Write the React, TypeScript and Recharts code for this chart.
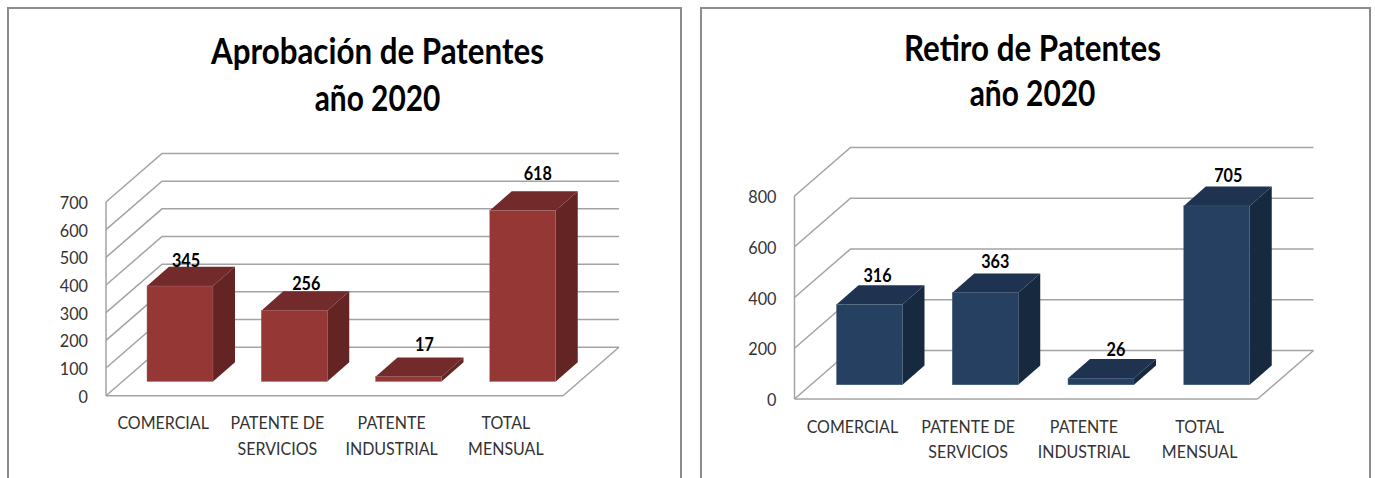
import React from 'react';
import { BarChart, Bar, XAxis, YAxis, CartesianGrid } from 'recharts';

const categories = ['COMERCIAL', 'PATENTE DE SERVICIOS', 'PATENTE INDUSTRIAL', 'TOTAL MENSUAL'];
const aprobacionValues = [345, 256, 17, 618];
const retiroValues = [316, 363, 26, 705];
const aprobacionTicks = [0, 100, 200, 300, 400, 500, 600, 700];
const retiroTicks = [0, 200, 400, 600, 800];

const FONT = 'Lato, sans-serif';
const DEPTH_X = 56;
const DEPTH_Y = -48.5;
const GRID = '#a3a3a3';

// horizontally squeezed text, the original is a narrower font stretched up
const Squeezed = ({ x, y, sx, size, weight, fill, children }: any) => (
  <text
    transform={`translate(${x} ${y}) scale(${sx} 1)`}
    textAnchor="middle"
    fontFamily={FONT}
    fontSize={size}
    fontWeight={weight}
    fill={fill}
  >
    {children}
  </text>
);

const YTick = ({ x, y, payload }: any) => (
  <text
    transform={`translate(${x - 10} ${y + 7}) scale(0.9 1)`}
    textAnchor="end"
    fontFamily={FONT}
    fontSize={18}
    fill="#333"
  >
    {payload.value}
  </text>
);

const XTick = ({ x, y, payload }: any) => {
  const text: string = payload.value;
  const cut = text.lastIndexOf(' ');
  const lines = cut < 0 ? [text] : [text.slice(0, cut), text.slice(cut + 1)];
  return (
    <g>
      {lines.map((line, i) => (
        <Squeezed key={line} x={x} y={y + 25.5 + i * 25.5} sx={0.89} size={18} fill="#333">
          {line}
        </Squeezed>
      ))}
    </g>
  );
};

interface PanelProps {
  left: number;
  width: number;
  title: string[];
  titleX: number;
  titleY: number[];
  titleScale: number[];
  values: number[];
  ticks: number[];
  plot: { x1: number; x2: number; top: number; bottom: number };
  colors: { front: string; top: string; side: string; edge: string };
  labelShift: number[][];
}

const Panel: React.FC<PanelProps> = ({ left, width, title, titleX, titleY, titleScale, values, ticks, plot, colors, labelShift }) => {
  const data = categories.map((name, i) => ({ name, value: values[i] }));
  const barShiftX = 17;
  const barShiftY = -14.2;
  const boxX = 22;
  const boxY = -19.3;

  const gridLine = (p: any) => {
    const isFloor = p.y1 > plot.bottom - 1;
    const d = `M${p.x1} ${p.y1}L${p.x1 + DEPTH_X} ${p.y1 + DEPTH_Y}L${p.x2 + DEPTH_X} ${p.y1 + DEPTH_Y}`;
    return (
      <g key={p.key ?? p.y1}>
        <path d={d} fill="none" stroke={GRID} strokeWidth={1.5} />
        {isFloor && <path d={`M${p.x2} ${p.y1}L${p.x2 + DEPTH_X} ${p.y1 + DEPTH_Y}`} fill="none" stroke={GRID} strokeWidth={1.5} />}
      </g>
    );
  };

  const box = (p: any) => {
    const x = p.x + barShiftX;
    const y = p.y + barShiftY;
    const w = p.width;
    const h = p.height;
    return (
      <g>
        <path d={`M${x} ${y}L${x + boxX} ${y + boxY}L${x + w + boxX} ${y + boxY}L${x + w} ${y}Z`} fill={colors.top} />
        <path d={`M${x + w} ${y}L${x + w + boxX} ${y + boxY}L${x + w + boxX} ${y + h + boxY}L${x + w} ${y + h}Z`} fill={colors.side} />
        <rect x={x} y={y} width={w} height={h} fill={colors.front} stroke={colors.edge} strokeWidth={0.4} />
      </g>
    );
  };

  const valueLabel = (p: any) => {
    const shift = labelShift[p.index];
    return (
      <Squeezed
        x={p.x + p.width / 2 + barShiftX + shift[0]}
        y={p.y + barShiftY + boxY + shift[1]}
        sx={0.9}
        size={18}
        weight={700}
        fill="#000"
      >
        {p.value}
      </Squeezed>
    );
  };

  return (
    <div style={{ position: 'absolute', left, top: 0, width, height: 478 }}>
      <div style={{ position: 'absolute', left: 0, top: 7, width: width - 4, height: 500, border: '2px solid #8c8c8c' }} />
      <div style={{ position: 'absolute', left: 0, top: 0 }}>
        <BarChart
          width={width}
          height={478}
          data={data}
          margin={{ left: plot.x1 - left - 50, right: width - (plot.x2 - left), top: plot.top, bottom: 478 - plot.bottom - 60 }}
        >
          <CartesianGrid vertical={false} horizontal={gridLine} syncWithTicks />
          <XAxis
            dataKey="name"
            interval={0}
            height={60}
            tickLine={false}
            axisLine={{ stroke: GRID, strokeWidth: 1.5 }}
            tick={<XTick />}
          />
          <YAxis
            type="number"
            domain={[ticks[0], ticks[ticks.length - 1]]}
            ticks={ticks}
            width={50}
            interval={0}
            tickLine={false}
            axisLine={{ stroke: GRID, strokeWidth: 1.5 }}
            tick={<YTick />}
          />
          <Bar dataKey="value" barSize={66} isAnimationActive={false} shape={box} label={valueLabel} />
        </BarChart>
      </div>
      <svg width={width} height={130} style={{ position: 'absolute', left: 0, top: 0 }}>
        {title.map((line, i) => (
          <Squeezed key={line} x={titleX - left} y={titleY[i]} sx={titleScale[i]} size={36} weight={700} fill="#000">
            {line}
          </Squeezed>
        ))}
      </svg>
    </div>
  );
};

export default function App() {
  return (
    <div style={{ position: 'absolute', left: 0, top: 0, width: 1375, height: 478, overflow: 'hidden', background: '#fff' }}>
      <Panel
        left={7}
        width={675}
        title={['Aprobación de Patentes', 'año 2020']}
        titleX={377.5}
        titleY={[64, 111]}
        titleScale={[0.87, 0.83]}
        values={aprobacionValues}
        ticks={aprobacionTicks}
        plot={{ x1: 106, x2: 563, top: 202, bottom: 395.7 }}
        colors={{ front: '#953735', top: '#722b2a', side: '#632423', edge: '#a86a69' }}
        labelShift={[[6, 0], [12, -1], [16, -6], [15, -11]]}
      />
      <Panel
        left={700}
        width={671}
        title={['Retiro de Patentes', 'año 2020']}
        titleX={1032.5}
        titleY={[61, 106]}
        titleScale={[0.87, 0.83]}
        values={retiroValues}
        ticks={retiroTicks}
        plot={{ x1: 794.5, x2: 1257.5, top: 196, bottom: 399 }}
        colors={{ front: '#254061', top: '#1f3350', side: '#17293f', edge: '#4d6481' }}
        labelShift={[[8, -3], [10, -5], [15, -2.5], [11.5, -5]]}
      />
    </div>
  );
}
